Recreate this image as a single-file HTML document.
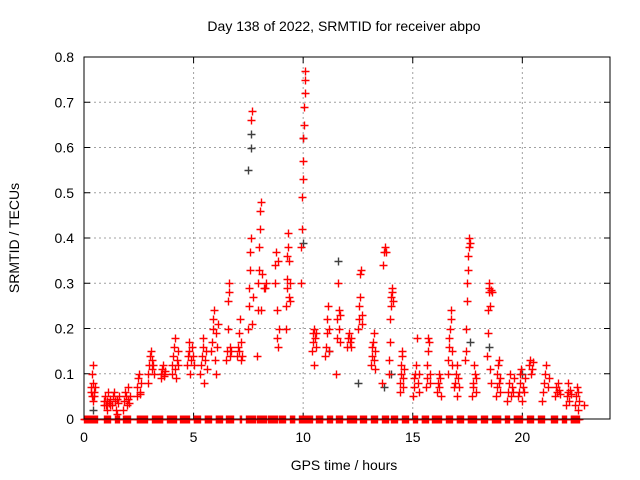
<!DOCTYPE html>
<html><head><meta charset="utf-8"><style>
body{margin:0;background:#fff;}
svg{display:block;font-family:"Liberation Sans",sans-serif;}
</style></head><body>
<svg id="chart" width="640" height="480" xmlns="http://www.w3.org/2000/svg">
<rect width="640" height="480" fill="#fff"/>
<text x="344" y="31" font-size="14" text-anchor="middle">Day 138 of 2022, SRMTID for receiver abpo</text>
<text x="344" y="470" font-size="14" text-anchor="middle">GPS time / hours</text>
<text transform="translate(19,238) rotate(-90)" font-size="14" text-anchor="middle">SRMTID / TECUs</text>
<g id="grid"></g><g id="ticks"></g><g id="marks"></g>
<rect x="84" y="57" width="526" height="362" fill="none" stroke="#000" stroke-width="1"/>
</svg>
<script>
const xTicks=[0,5,10,15,20];
const yTicks=[0,0.1,0.2,0.3,0.4,0.5,0.6,0.7,0.8];
const yTickLabels=["0","0.1","0.2","0.3","0.4","0.5","0.6","0.7","0.8"];
const groupStart=[0.3,0.9,1.3,1.8,2.4,2.9,3.5,4.0,4.7,5.3,5.8,6.5,7.0,7.5,7.9,8.2,8.7,9.2,9.9,10.4,11.0,11.5,12.0,12.5,13.1,13.6,13.9,14.4,15.0,15.6,16.1,16.6,16.9,17.4,17.7,18.4,18.8,19.3,19.8,20.3,20.9,21.5,22.0,22.4,22.8];
const groupEnd=[0.5,1.2,1.6,2.1,2.6,3.2,3.7,4.3,5.0,5.6,6.1,6.7,7.2,7.7,8.1,8.3,8.9,9.4,10.1,10.6,11.2,11.7,12.2,12.7,13.3,13.8,14.1,14.6,15.3,15.8,16.3,16.8,17.1,17.6,17.9,18.6,19.0,19.6,20.1,20.5,21.2,21.7,22.2,22.6,22.8];
const groupValues=[
[0.07,0.06,0.05,0.1,0.12,0.08,0.04,0.06,0.05,0.07],
[0.03,0.04,0.05,0.03,0.02,0.04,0.06,0.035,0.045,0.03],
[0.03,0.05,0.06,0.04,0.02,0.01,0.045,0.035,0.05],
[0.02,0.04,0.06,0.05,0.03,0.07,0.045,0.035,0.05],
[0.05,0.07,0.09,0.1,0.06,0.055,0.08],
[0.08,0.1,0.12,0.14,0.15,0.11,0.13,0.12,0.1],
[0.09,0.1,0.11,0.12,0.1,0.095,0.105],
[0.1,0.12,0.14,0.16,0.18,0.11,0.09,0.13,0.12,0.15],
[0.12,0.14,0.15,0.17,0.1,0.13,0.16,0.14,0.12],
[0.1,0.12,0.14,0.16,0.18,0.08,0.13,0.15,0.11],
[0.15,0.17,0.2,0.22,0.24,0.13,0.1,0.19,0.16,0.21],
[0.13,0.15,0.2,0.26,0.3,0.28,0.14,0.16,0.15],
[0.14,0.16,0.15,0.19,0.22,0.13,0.17,0.14],
[0.2,0.25,0.29,0.33,0.37,0.4,0.66,0.68,0.21,0.27],
[0.14,0.24,0.3,0.33,0.38,0.42,0.46,0.48,0.24,0.32],
[0.29,0.29,0.3],
[0.3,0.34,0.37,0.24,0.18,0.16,0.35,0.2],
[0.2,0.25,0.29,0.31,0.36,0.38,0.41,0.35,0.27,0.3,0.26],
[0.3,0.38,0.42,0.49,0.53,0.57,0.62,0.65,0.69,0.72,0.75,0.77],
[0.15,0.17,0.19,0.2,0.12,0.18,0.16,0.19],
[0.14,0.16,0.19,0.22,0.25,0.15,0.2],
[0.1,0.18,0.22,0.3,0.24,0.2,0.17,0.23],
[0.16,0.18,0.19,0.17,0.18,0.16],
[0.2,0.22,0.25,0.27,0.32,0.33,0.21,0.23],
[0.12,0.14,0.16,0.17,0.19,0.13,0.15,0.11],
[0.08,0.34,0.37,0.38,0.37],
[0.1,0.13,0.17,0.22,0.25,0.27,0.29,0.28,0.26],
[0.06,0.08,0.1,0.12,0.14,0.15,0.09,0.07,0.11],
[0.05,0.07,0.09,0.1,0.12,0.18,0.08,0.06,0.1],
[0.07,0.09,0.12,0.15,0.18,0.17,0.08,0.1],
[0.06,0.08,0.1,0.07,0.09,0.05],
[0.1,0.13,0.16,0.18,0.2,0.22,0.24,0.15,0.12],
[0.07,0.08,0.1,0.05,0.12,0.09,0.07],
[0.13,0.15,0.2,0.26,0.3,0.33,0.36,0.4,0.38,0.39],
[0.05,0.07,0.08,0.12,0.1,0.09,0.06],
[0.14,0.19,0.24,0.28,0.29,0.3,0.25,0.11,0.08,0.285,0.28],
[0.05,0.07,0.1,0.12,0.13,0.08,0.06,0.09],
[0.04,0.06,0.08,0.1,0.05,0.07,0.06,0.09],
[0.05,0.06,0.08,0.1,0.11,0.04,0.07,0.06,0.09],
[0.12,0.13,0.1,0.11,0.125],
[0.04,0.06,0.08,0.1,0.12,0.07,0.09],
[0.05,0.07,0.06,0.08,0.065,0.055],
[0.03,0.05,0.06,0.08,0.04,0.065,0.055],
[0.03,0.05,0.07,0.02,0.06,0.04],
[0.03]];
const grayTimes=[0.4,7.6,7.6,7.5,10.0,10.0,11.6,11.2,12.5,13.7,14.0,17.6,18.5,20.0];
const grayValues=[0.02,0.63,0.6,0.55,0.62,0.39,0.35,0.15,0.08,0.07,0.1,0.17,0.16,0.1];
const zeroRangeStart=[0.0,0.9,1.4,1.8,2.4,3.1,3.8,4.4,5.0,5.5,6.0,6.5,7.1,7.4,7.9,8.4,8.9,9.4,9.8,10.6,11.1,11.5,12.0,12.6,13.1,13.6,14.0,14.5,15.0,15.4,15.9,16.5,17.0,17.5,18.1,18.6,19.2,19.6,20.2,20.7,21.3,21.8,22.2];
const zeroRangeEnd=[0.6,1.2,1.6,2.1,2.9,3.6,4.2,4.8,5.3,5.8,6.3,6.8,7.2,7.8,8.3,8.8,9.2,9.6,10.4,10.9,11.3,11.8,12.4,12.9,13.4,13.9,14.3,14.8,15.2,15.7,16.3,16.8,17.3,17.9,18.4,19.0,19.4,20.0,20.5,21.0,21.6,22.0,22.6];
const X0=84,X1=610,Y0=419,Y1=57,XMAX=24,YMAX=0.8;
const xs=t=>X0+(t/XMAX)*(X1-X0);
const ys=v=>Y0-(v/YMAX)*(Y0-Y1);
const NS="http://www.w3.org/2000/svg";
const grid=document.getElementById('grid'),ticks=document.getElementById('ticks'),marks=document.getElementById('marks');
function mk(tag,a,p){const e=document.createElementNS(NS,tag);for(const k in a)e.setAttribute(k,a[k]);p.appendChild(e);return e;}
xTicks.forEach(t=>{
 const x=xs(t);
 if(t>0){const g=mk('line',{x1:x,x2:x,y1:Y0,y2:Y1,stroke:'#a0a0a0','stroke-dasharray':'2,3'},grid);
 
 }
 const l=mk('text',{x:x,y:Y0+23,'font-size':14,'text-anchor':'middle'},ticks);l.textContent=t;
 
 
 mk('line',{x1:x,x2:x,y1:Y0,y2:Y0-6,stroke:'#000'},ticks);
 mk('line',{x1:x,x2:x,y1:Y1,y2:Y1+6,stroke:'#000'},ticks);
});
yTicks.forEach((v,i)=>{
 const y=ys(v);
 if(v>0&&v<YMAX){const g=mk('line',{x1:X0,x2:X1,y1:y,y2:y,stroke:'#a0a0a0','stroke-dasharray':'2,3'},grid);
 
 }
 const l=mk('text',{x:X0-10,y:y+5,'font-size':14,'text-anchor':'end'},ticks);l.textContent=yTickLabels[i];
 
 
 mk('line',{x1:X0,x2:X0+6,y1:y,y2:y,stroke:'#000'},ticks);
 mk('line',{x1:X1,x2:X1-6,y1:y,y2:y,stroke:'#000'},ticks);
});
function plus(t,v,color,name){
 const x=Math.round(xs(t))+0.5,y=Math.round(ys(v))+0.5;
 const p=mk('path',{d:`M${x-4} ${y}H${x+4}M${x} ${y-4}V${y+4}`,stroke:color,'stroke-width':1.4,fill:'none'},marks);
 
 
}
zeroRangeStart.forEach((s,i)=>{for(let t=s;t<=zeroRangeEnd[i]+1e-6;t+=0.04)plus(t,0,'#ff0000','zero-point');});
grayTimes.forEach((t,i)=>plus(t,grayValues[i],'#404040','gray-point'));
groupValues.forEach((vals,g)=>{
 const n=vals.length;
 vals.forEach((v,i)=>{const t=n>1?groupStart[g]+(groupEnd[g]-groupStart[g])*i/(n-1):groupStart[g];plus(t,v,'#ff0000','srmtid-point');});
});
</script>
</body></html>
